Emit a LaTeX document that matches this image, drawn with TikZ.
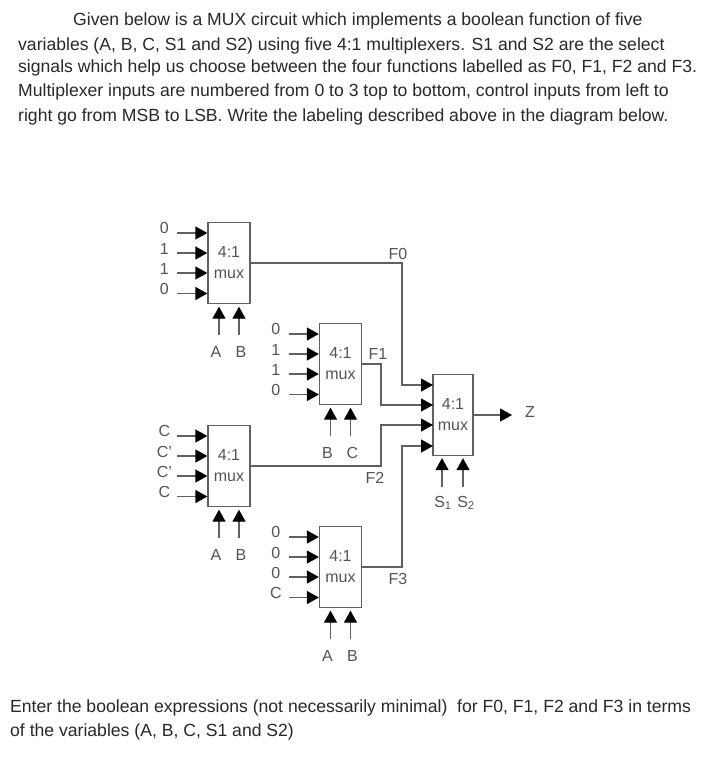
\documentclass[tikz,border=0pt]{standalone}
\usepackage{fontspec}
\setmainfont{Liberation Sans}
\usetikzlibrary{arrows.meta,calc}
\definecolor{wirec}{gray}{0.38}
\definecolor{labc}{gray}{0.33}
\definecolor{textc}{gray}{0.16}
\tikzset{
  muxbox/.style={draw=wirec,line width=1.3pt,fill=white,minimum width=42pt,minimum height=81pt,inner sep=0pt,align=center,text=labc,font=\fontsize{16}{21}\selectfont},
  lbl/.style={inner sep=0pt,text=labc,font=\fontsize{16}{17}\selectfont},
  arr/.style={draw=wirec,line width=1.3pt,-{Triangle[length=12pt,width=13pt,color=black]}},
  para/.style={anchor=base west,inner sep=0pt,text=textc,font=\fontsize{17.6}{21}\selectfont}
}
% name, cx, cy, four input labels, two select labels
\newcommand{\muxfour}[9]{%
  \node[muxbox] (#1) at (#2,#3) {4:1\\mux};
  \foreach \i/\dy/\ly/\t in {1/-30/-35/#4,2/-10/-14/#5,3/10/6/#6,4/30.5/26/#7}{
    \coordinate (#1-s\i) at ($(#1.west)+(-30,\dy)$);
    \node[lbl] (#1-l\i) at ($(#1.west)+(-43,\ly)$) {\t};
    \draw[arr] (#1-s\i) -- (#1-s\i -| #1.west);
  }
  \coordinate (#1-a) at ($(#1.south)+(-10,31)$);
  \coordinate (#1-b) at ($(#1.south)+(10,31)$);
  \draw[arr,shorten >=2.5pt] (#1-a) -- (#1-a |- #1.south);
  \draw[arr,shorten >=2.5pt] (#1-b) -- (#1-b |- #1.south);
  \node[lbl] (#1-la) at ($(#1.south)+(-13,48)$) {#8};
  \node[lbl] (#1-lb) at ($(#1.south)+(12,48)$) {#9};
}
\begin{document}
\begin{tikzpicture}[x=1pt,y=-1pt]
\useasboundingbox[fill=white] (0,0) rectangle (710,774);
\node[para] (t1) at (73,25) {Given below is a MUX circuit which implements a boolean function of five};
\node[para] (t2) at (18,50) {variables (A, B, C, S1 and S2) using five 4:1 multiplexers. S1 and S2 are the select};
\node[para] (t3) at (18,72) {signals which help us choose between the four functions labelled as F0, F1, F2 and F3.};
\node[para] (t4) at (18,96) {Multiplexer inputs are numbered from 0 to 3 top to bottom, control inputs from left to};
\node[para] (t5) at (18,121) {right go from MSB to LSB. Write the labeling described above in the diagram below.};
\node[para] (t6) at (10,712) {Enter the boolean expressions (not necessarily minimal)\ \ for F0, F1, F2 and F3 in terms};
\node[para] (t7) at (10,736) {of the variables (A, B, C, S1 and S2)};

\muxfour{ma}{229}{263}{0}{1}{1}{0}{A}{B}
\muxfour{mb}{340.5}{364}{0}{1}{1}{0}{B}{C}
\muxfour{mc}{229}{466}{C}{C'}{C'}{C}{A}{B}
\muxfour{md}{340.5}{567}{0}{0}{0}{C}{A}{B}

\node[muxbox,minimum width=40pt] (out) at (453,415) {4:1\\mux};
\coordinate (in1) at (433,385);
\coordinate (in2) at (433,405);
\coordinate (in3) at (433,425);
\coordinate (in4) at (433,446);
\coordinate (busa) at (402,300);
\coordinate (busb) at (381,300);

\draw[arr] (ma.east) -| (busa |- in1) -- (in1);
\draw[arr] (mb.east) -| (busb |- in2) -- (in2);
\draw[arr] (mc.east) -| (busb |- in3) -- (in3);
\draw[arr] (md.east) -| (busa |- in4) -- (in4);

\node[lbl] (f0) at (398,254) {F0};
\node[lbl] (f1) at (378,354) {F1};
\node[lbl] (f2) at (375,478) {F2};
\node[lbl] (f3) at (398,579) {F3};

\coordinate (z-end) at (512,415);
\draw[arr] (out.east) -- (z-end);
\node[lbl] (z) at (530,412) {Z};

\coordinate (out-a) at (442,487);
\coordinate (out-b) at (463,487);
\draw[arr,shorten >=2pt] (out-a) -- (out-a |- out.south);
\draw[arr,shorten >=2pt] (out-b) -- (out-b |- out.south);
\node[lbl] (s1) at (443,503) {S$_{\mathrm{1}}$};
\node[lbl] (s2) at (466,503) {S$_{\mathrm{2}}$};
\end{tikzpicture}
\end{document}
